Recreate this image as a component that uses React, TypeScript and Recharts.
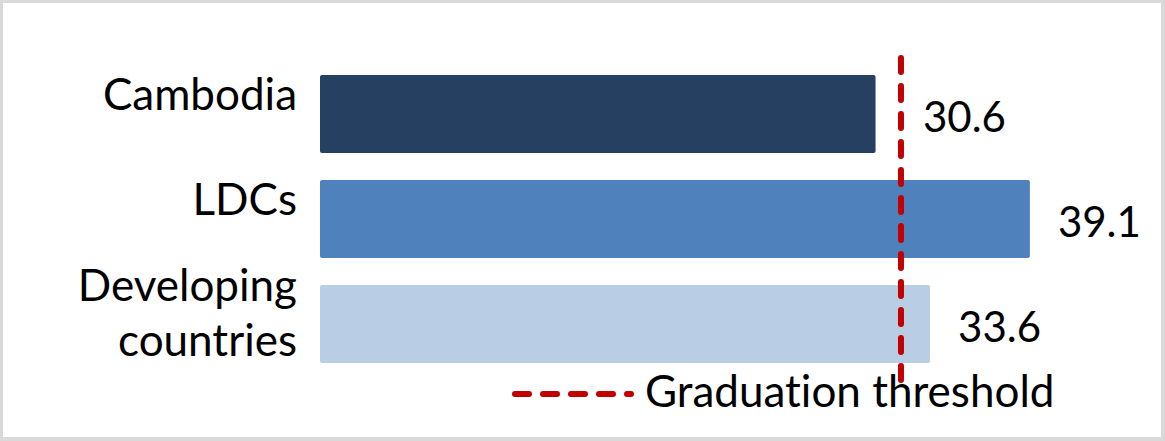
import React from 'react';
import { BarChart, Bar, XAxis, YAxis, ReferenceLine, LabelList, Legend, Cell } from 'recharts';

const categories = ['Cambodia', 'LDCs', 'Developing countries'];
const values = [30.6, 39.1, 33.6];
const barColors = ['#264061', '#4F81BD', '#B9CDE5'];
const threshold = 32;
const thresholdLabel = 'Graduation threshold';

const data = categories.map((name, i) => ({ name, value: values[i] }));

const FONT = 'Lato, "Open Sans", sans-serif';
const TEXT_SIZE = 44;
const VALUE_SIZE = 42;
const RED = '#C00000';
const noLig = { fontVariantLigatures: 'none' as const };

// wraps long category names on two lines, right aligned next to the bars
const CategoryTick = ({ x, y, payload }: any) => {
  const text = String(payload.value);
  const lines = text.length > 12 ? text.split(' ') : [text];
  const first = -4 - (lines.length - 1) * 19;
  return (
    <text x={x} y={y} textAnchor="end" fontFamily={FONT} fontSize={TEXT_SIZE} fill="#000" style={noLig}>
      {lines.map((l, i) => (
        <tspan key={i} x={x} y={y + first + i * 55}>{l}</tspan>
      ))}
    </text>
  );
};

// value next to the bar end; pushed past the threshold line when it would sit on it
const ValueLabel = ({ x, y, width, height, value }: any) => {
  const perUnit = width / Number(value);
  const lineX = x + threshold * perUnit;
  let lx = x + width + 28;
  if (Number(value) < threshold) lx = Math.max(lx, lineX + 22);
  return (
    <text x={lx} y={y + height / 2 + 2} dominantBaseline="central" fontFamily={FONT} fontSize={VALUE_SIZE} fill="#000">
      {Number(value).toFixed(1)}
    </text>
  );
};

const ThresholdLegend = () => (
  <svg width={560} height={40} style={{ display: 'block', overflow: 'visible' }}>
    <line x1={6} x2={122} y1={20} y2={20} stroke={RED} strokeWidth={6} strokeDasharray="14 14" strokeLinecap="round" />
    <text x={136} y={33} fontFamily={FONT} fontSize={TEXT_SIZE} fill="#000" style={noLig}>{thresholdLabel}</text>
  </svg>
);

export default function App() {
  return (
    <div style={{ position: 'absolute', left: 0, top: 0, width: 1165, height: 441, background: '#fff' }}>
      <BarChart
        width={1165}
        height={441}
        data={data}
        layout="vertical"
        margin={{ top: 58, right: 28, bottom: 61, left: 0 }}
      >
        <XAxis type="number" domain={[0, 45]} hide />
        <YAxis
          type="category"
          dataKey="name"
          width={320}
          axisLine={false}
          tickLine={false}
          tickSize={0}
          tickMargin={23}
          padding={{ top: 3, bottom: 4 }}
          tick={<CategoryTick />}
          interval={0}
        />
        <Bar dataKey="value" barSize={78} radius={2} isAnimationActive={false}>
          {data.map((d, i) => (
            <Cell key={d.name} fill={barColors[i]} />
          ))}
          <LabelList dataKey="value" content={<ValueLabel />} />
        </Bar>
        <ReferenceLine
          x={threshold}
          stroke={RED}
          strokeWidth={6}
          strokeDasharray="14 14"
          strokeLinecap="round"
        />
        <Legend
          content={<ThresholdLegend />}
          wrapperStyle={{ position: 'absolute', left: 509, top: 374, width: 560, height: 0, bottom: 'auto' }}
        />
      </BarChart>
      <div
        style={{
          position: 'absolute', left: 0, top: 0, width: 1165, height: 441,
          boxSizing: 'border-box', borderTop: '3px solid #d9d9d9', borderLeft: '3px solid #d9d9d9',
          borderRight: '4px solid #d9d9d9', borderBottom: '4px solid #d9d9d9', pointerEvents: 'none',
        }}
      />
    </div>
  );
}
